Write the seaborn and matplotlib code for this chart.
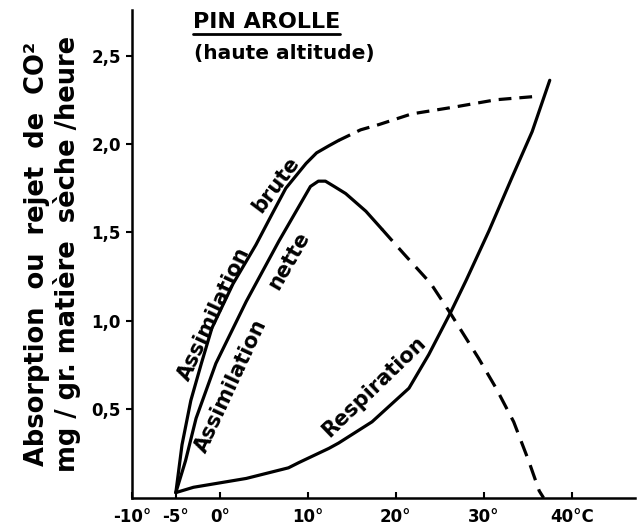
import matplotlib
matplotlib.use('Agg')
import matplotlib.pyplot as plt
from matplotlib.lines import Line2D
import seaborn as sns

# Values (temperature in deg C, mg CO2 / g / h)
brute_t = [-5, -4.3, -3.3, -2.1, -0.9, 1.5, 4.1, 6.0, 7.5, 9.8, 11.0, 12.4, 13.5]
brute_v = [0.03, 0.30, 0.55, 0.76, 0.96, 1.21, 1.43, 1.61, 1.75, 1.89, 1.95, 1.99, 2.02]
brute_dash_t = [13.5, 16.0, 18.1, 21.8, 26.8, 31.4, 36.2]
brute_dash_v = [2.02, 2.08, 2.11, 2.17, 2.21, 2.25, 2.27]

nette_t = [-5, -3.9, -2.7, -0.45, 3.0, 6.7, 10.3, 11.2, 12.0, 13.0, 14.3, 16.6, 18.4]
nette_v = [0.03, 0.21, 0.45, 0.76, 1.11, 1.45, 1.76, 1.79, 1.79, 1.76, 1.72, 1.62, 1.52]
nette_dash_t = [18.4, 20.9, 24.0, 26.25, 29.4, 31.4, 33.4, 35.1, 36.3, 36.8]
nette_dash_v = [1.52, 1.38, 1.21, 1.04, 0.79, 0.62, 0.43, 0.21, 0.04, 0.0]

resp_t = [-5, -3, 0, 3, 7.8, 9, 12.4, 13.5, 17.3, 21.5, 23.75, 26.25, 28, 30.6, 33.2, 35.5, 37.5]
resp_v = [0.03, 0.06, 0.085, 0.11, 0.17, 0.20, 0.28, 0.31, 0.43, 0.62, 0.81, 1.05, 1.23, 1.51, 1.81, 2.07, 2.36]

x_ticks = [-10, -5, 0, 10, 20, 30, 40]
x_labels = ['-10°', '-5°', '0°', '10°', '20°', '30°', '40°C']
y_ticks = [0.5, 1.0, 1.5, 2.0, 2.5]
y_labels = ['0,5', '1,0', '1,5', '2,0', '2,5']

sns.set_style('white')
plt.rcParams['font.family'] = ['DejaVu Sans']
plt.rcParams['text.color'] = 'black'
plt.rcParams['xtick.color'] = 'black'
plt.rcParams['ytick.color'] = 'black'

fig = plt.figure(figsize=(6.37, 5.28), dpi=100)
ax = fig.add_axes([0.207, 0.057, 0.79, 0.924])

lw = 2.3
sns.lineplot(x=brute_t, y=brute_v, ax=ax, color='black', linewidth=lw)
sns.lineplot(x=brute_dash_t, y=brute_dash_v, ax=ax, color='black', linewidth=lw,
             linestyle=(0, (4, 2.5)))
sns.lineplot(x=nette_t, y=nette_v, ax=ax, color='black', linewidth=lw)
sns.lineplot(x=nette_dash_t, y=nette_dash_v, ax=ax, color='black', linewidth=lw,
             linestyle=(0, (5, 3)))
sns.lineplot(x=resp_t, y=resp_v, ax=ax, color='black', linewidth=lw)

ax.set_xlim(-10, 47.2)
ax.set_ylim(0, 2.757)
sns.despine(ax=ax)
for s in ['left', 'bottom']:
    ax.spines[s].set_linewidth(1.8)
    ax.spines[s].set_color('black')

ax.set_xticks(x_ticks)
ax.set_xticklabels(x_labels, fontsize=12, fontweight='bold')
ax.set_yticks(y_ticks)
ax.set_yticklabels(y_labels, fontsize=12, fontweight='bold')
ax.tick_params(axis='x', direction='in', length=4, width=1.5, pad=7, bottom=True)
ax.tick_params(axis='y', direction='out', length=4, width=1.5, pad=4, left=True)

# curve labels written along the lines
lab = dict(fontsize=15, fontweight='bold', ha='center', va='center', rotation_mode='anchor')
ax.text(-0.7, 1.04, 'Assimilation', rotation=65, **lab)
ax.text(6.4, 1.77, 'brute', rotation=53, **lab)
ax.text(1.25, 0.63, 'Assimilation', rotation=65, **lab)
ax.text(7.8, 1.34, 'nette', rotation=60, **lab)
ax.text(17.5, 0.63, 'Respiration', rotation=44, **lab)

ax.set_ylabel('')
ax.set_xlabel('')

fig.text(0.082, 0.52, 'Absorption  ou  rejet  de  CO²\nmg / gr. matière  sèche /heure',
         rotation=90, ha='center', va='center', fontsize=18.5, fontweight='bold',
         multialignment='center', linespacing=1.15)

t1 = fig.text(0.418, 0.958, 'PIN AROLLE', ha='center', va='center', fontsize=16, fontweight='bold')
fig.text(0.447, 0.899, '(haute altitude)', ha='center', va='center', fontsize=14.5, fontweight='bold')

fig.canvas.draw()
bb = t1.get_window_extent().transformed(fig.transFigure.inverted())
fig.add_artist(Line2D([bb.x0, bb.x1], [bb.y0 - 0.004, bb.y0 - 0.004], color='black',
                      linewidth=2, transform=fig.transFigure))

fig.savefig('out.png', dpi=100)
